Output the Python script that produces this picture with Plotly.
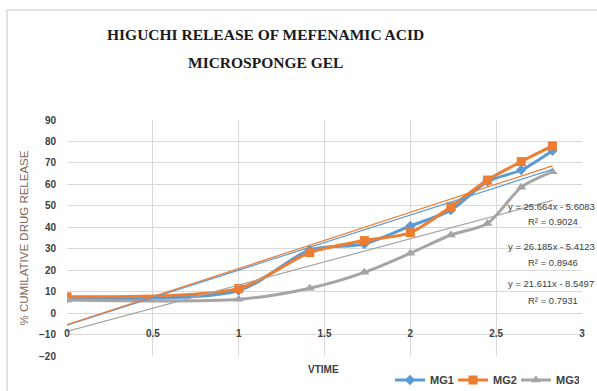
import plotly.graph_objects as go

# Square root of time (Higuchi model abscissa)
sqrt_time = [0, 1, 1.414, 1.732, 2, 2.236, 2.449, 2.646, 2.828]

# % cumulative drug release for each microsponge gel batch
mg1 = [7.0, 10.5, 29.4, 32.2, 40.6, 48.0, 61.3, 66.7, 75.7]
mg2 = [7.6, 11.5, 28.2, 33.8, 37.5, 49.6, 62.0, 70.6, 77.9]
mg3 = [6.1, 6.4, 11.6, 19.0, 27.9, 36.4, 41.8, 58.6, 65.9]

series_names = ["MG1", "MG2", "MG3"]
series_colors = ["#5B9BD5", "#ED7D31", "#A5A5A5"]
series_symbols = ["diamond", "square", "triangle-up"]
marker_sizes = [8, 9, 9]

# Linear trendline fits (slope, intercept, R²)
trend_slopes = [25.664, 26.185, 21.611]
trend_intercepts = [-5.6083, -5.4123, -8.5497]
trend_r2 = [0.9024, 0.8946, 0.7931]

x_ticks = [0, 0.5, 1, 1.5, 2, 2.5, 3]
y_ticks = [-20, -10, 0, 10, 20, 30, 40, 50, 60, 70, 80, 90]

title_lines = ["HIGUCHI RELEASE OF MEFENAMIC ACID", "MICROSPONGE GEL"]

# Plot-area geometry in pixels
L, R, T, B = 67, 582, 120, 356
W, H = R - L, B - T


def px_x(p):
    return (p - L) / W


def px_y(p):
    return (B - p) / H


fig = go.Figure()

for name, vals, col, sym, ms in zip(series_names, [mg1, mg2, mg3], series_colors,
                                    series_symbols, marker_sizes):
    fig.add_trace(go.Scatter(
        x=sqrt_time, y=vals, name=name, mode="lines+markers",
        line=dict(color=col, width=3, shape="spline", smoothing=0.8),
        marker=dict(symbol=sym, size=ms, color=col),
    ))

x_start, x_end = sqrt_time[0], sqrt_time[-1]
for m, c, col in zip(trend_slopes, trend_intercepts, series_colors):
    fig.add_trace(go.Scatter(
        x=[x_start, x_end], y=[m * x_start + c, m * x_end + c],
        mode="lines", line=dict(color=col, width=1.2),
        showlegend=False, hoverinfo="skip",
    ))

# Trendline equation labels
label_pos = [(49.5, 42.9), (30.9, 23.4), (14.0, 6.1)]
eq_font = dict(family="Liberation Sans Narrow, Arial Narrow, Liberation Sans", size=9.5, color="#404040")
for m, c, r2, (ye, yr) in zip(trend_slopes, trend_intercepts, trend_r2, label_pos):
    sign = "-" if c < 0 else "+"
    fig.add_annotation(x=px_x(551), y=ye, xref="paper", yref="y", showarrow=False,
                       xanchor="center", yanchor="middle",
                       text=f"y = {m:.3f}x {sign} {abs(c):.4f}", font=eq_font)
    fig.add_annotation(x=px_x(553), y=yr, xref="paper", yref="y", showarrow=False,
                       xanchor="center", yanchor="middle",
                       text=f"R² = {r2:.4f}", font=eq_font)

# Two-line chart title
title_font = dict(family="Liberation Serif, Times New Roman", size=15.5, color="#1a1a1a")
for line, py in zip(title_lines, [34, 62]):
    fig.add_annotation(x=px_x(265), y=px_y(py), xref="paper", yref="paper",
                       showarrow=False, text=f"<b>{line}</b>", font=title_font,
                       xanchor="center", yanchor="middle")

# X axis title
fig.add_annotation(x=px_x(323), y=px_y(369), xref="paper", yref="paper", showarrow=False,
                   text="<b>VTIME</b>", xanchor="center", yanchor="middle",
                   font=dict(family="Liberation Sans, Arial", size=10, color="#404040"))

# Light chart-area border
fig.add_shape(type="rect", xref="paper", yref="paper",
              x0=px_x(7), x1=px_x(602), y0=px_y(396), y1=px_y(10),
              line=dict(color="#D9D9D9", width=1.5), layer="below")

fig.update_layout(
    width=597, height=391,
    margin=dict(l=L, r=597 - R, t=T, b=391 - B, autoexpand=False),
    paper_bgcolor="white", plot_bgcolor="white",
    xaxis=dict(
        range=[0, 3], tickvals=x_ticks, showgrid=True, gridcolor="#D9D9D9", gridwidth=1,
        zeroline=False, showline=False, ticks="", anchor="free", position=px_y(326),
        tickfont=dict(family="Liberation Sans, Arial", size=10, color="#404040", weight="bold"),
    ),
    yaxis=dict(
        range=[-20, 90], tickvals=y_ticks, showgrid=True, gridcolor="#D9D9D9", gridwidth=1,
        zeroline=False, showline=False, ticks="", ticklabelstandoff=10,
        tickfont=dict(family="Liberation Sans, Arial", size=10, color="#404040", weight="bold"),
        title=dict(text="% CUMILATIVE DRUG RELEASE",
                   font=dict(family="Liberation Sans, Arial", size=11.5, color="#7F6555"), standoff=8),
    ),
    legend=dict(orientation="h", x=px_x(390), xanchor="left",
                y=px_y(380), yanchor="middle",
                font=dict(family="Liberation Sans, Arial", size=11, color="#404040", weight="bold"),
                itemwidth=30, entrywidth=18, entrywidthmode="pixels",
                tracegroupgap=0, bgcolor="rgba(0,0,0,0)"),
    showlegend=True,
)

fig.write_html("out.html")
